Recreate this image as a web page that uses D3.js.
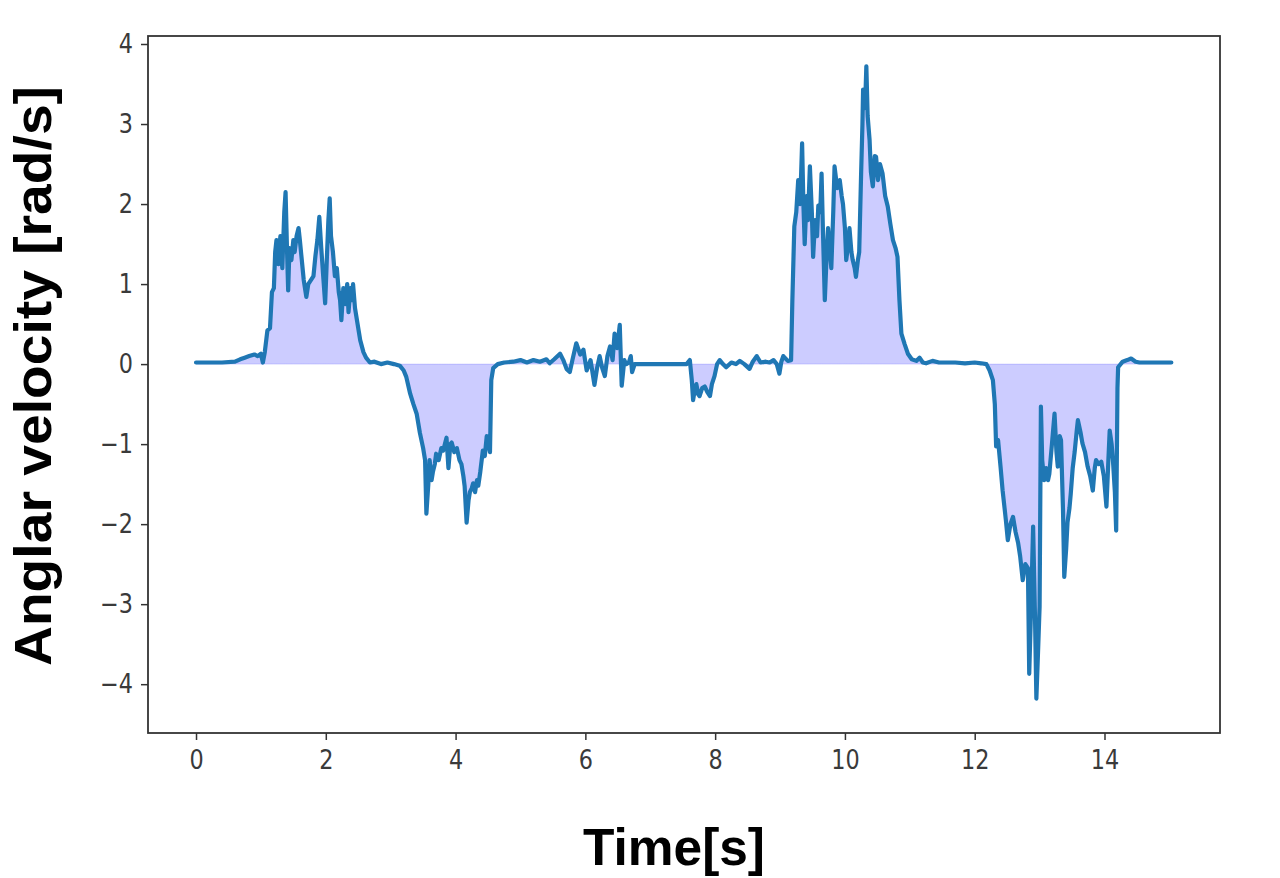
<!DOCTYPE html>
<html>
<head>
<meta charset="utf-8">
<script src="https://cdn.jsdelivr.net/npm/d3@7"></script>
<style>
  html, body { margin: 0; padding: 0; background: #fff; }
  svg { display: block; }
</style>
</head>
<body>
<svg id="chart" width="1280" height="878"></svg>
<script>
// ---- data ----
const timeS = [
  0.00,0.20,0.40,0.60,0.68,0.75,0.82,0.90,0.95,1.00,1.03,1.06,1.10,1.14,1.17,1.20,1.22,1.24,1.27,1.30,
  1.33,1.36,1.38,1.40,1.42,1.44,1.47,1.50,1.52,1.55,1.58,1.60,1.63,1.66,1.70,1.73,1.77,1.81,1.84,1.87,
  1.90,1.93,1.96,1.99,2.02,2.04,2.06,2.08,2.11,2.14,2.17,2.20,2.22,2.24,2.27,2.30,2.33,2.35,2.38,2.40,
  2.42,2.45,2.48,2.51,2.53,2.58,2.62,2.68,2.75,2.85,2.95,3.05,3.14,3.20,3.24,3.30,3.35,3.40,3.45,3.50,
  3.53,3.55,3.58,3.60,3.63,3.65,3.68,3.70,3.74,3.78,3.81,3.86,3.89,3.92,3.94,3.98,4.02,4.06,4.09,4.12,
  4.14,4.17,4.20,4.22,4.25,4.27,4.30,4.33,4.35,4.38,4.42,4.45,4.48,4.51,4.53,4.55,4.58,4.65,4.75,4.89,
  5.00,5.10,5.20,5.30,5.40,5.45,5.52,5.61,5.66,5.71,5.76,5.80,5.86,5.92,5.97,6.02,6.08,6.14,6.18,6.22,
  6.26,6.30,6.34,6.38,6.42,6.45,6.49,6.53,6.56,6.60,6.63,6.67,6.70,6.72,6.76,6.84,7.00,7.20,7.40,7.56,
  7.61,7.64,7.66,7.69,7.71,7.74,7.76,7.80,7.84,7.88,7.92,7.95,7.99,8.03,8.07,8.12,8.17,8.25,8.32,8.38,
  8.45,8.53,8.58,8.64,8.70,8.78,8.84,8.90,8.95,8.99,9.02,9.05,9.12,9.17,9.19,9.22,9.25,9.28,9.31,9.34,
  9.36,9.38,9.41,9.43,9.46,9.49,9.51,9.54,9.57,9.59,9.62,9.64,9.66,9.69,9.72,9.74,9.77,9.79,9.82,9.84,
  9.88,9.92,9.95,9.97,10.00,10.02,10.05,10.07,10.10,10.12,10.15,10.17,10.20,10.22,10.25,10.27,10.28,10.31,10.33,10.35,
  10.38,10.40,10.43,10.46,10.48,10.51,10.54,10.58,10.62,10.66,10.70,10.74,10.78,10.81,10.84,10.87,10.92,10.97,11.03,11.10,
  11.15,11.20,11.25,11.35,11.45,11.56,11.70,11.85,12.00,12.10,12.18,12.23,12.28,12.31,12.33,12.36,12.40,12.43,12.46,12.48,
  12.51,12.55,12.59,12.63,12.67,12.70,12.74,12.78,12.82,12.84,12.87,12.90,12.93,12.95,12.98,13.00,13.02,13.04,13.07,13.10,
  13.13,13.15,13.19,13.23,13.26,13.28,13.31,13.33,13.36,13.38,13.41,13.43,13.46,13.48,13.51,13.54,13.57,13.59,13.63,13.66,
  13.70,13.74,13.78,13.82,13.85,13.87,13.91,13.95,13.99,14.03,14.06,14.08,14.11,14.13,14.16,14.18,14.20,14.21,14.28,14.35,
  14.41,14.48,14.54,14.70,14.85,15.03
];
const angularVelocity = [
  0.02,0.02,0.02,0.03,0.06,0.08,0.10,0.12,0.10,0.13,0.02,0.15,0.42,0.45,0.90,0.95,1.40,1.55,1.25,1.60,
  1.20,1.90,2.15,1.50,0.92,1.45,1.30,1.55,1.40,1.60,1.70,1.55,1.30,1.05,0.84,1.00,1.05,1.10,1.35,1.55,
  1.84,1.45,1.10,0.76,1.40,1.80,2.07,1.60,1.40,1.10,1.20,0.90,0.80,0.55,0.95,0.75,1.00,0.65,0.95,0.80,
  1.00,0.70,0.55,0.40,0.30,0.15,0.08,0.02,0.03,0.00,0.02,0.00,-0.02,-0.08,-0.16,-0.37,-0.50,-0.62,-0.86,-1.05,
  -1.20,-1.87,-1.50,-1.20,-1.45,-1.35,-1.25,-1.12,-1.20,-1.05,-1.08,-0.92,-1.30,-1.00,-0.98,-1.10,-1.05,-1.20,-1.25,-1.40,
  -1.53,-1.98,-1.70,-1.60,-1.55,-1.49,-1.60,-1.45,-1.52,-1.35,-1.08,-1.15,-0.90,-1.00,-1.10,-0.20,-0.05,0.00,0.02,0.03,
  0.05,0.02,0.05,0.03,0.06,0.01,0.06,0.13,0.05,-0.06,-0.10,0.05,0.26,0.12,0.18,-0.08,0.05,-0.26,-0.05,0.10,
  -0.05,-0.15,0.10,0.22,0.05,0.38,0.20,0.49,-0.27,0.05,0.00,0.02,0.10,-0.10,0.00,0.00,0.00,0.00,0.00,0.00,
  0.05,-0.20,-0.45,-0.30,-0.25,-0.38,-0.40,-0.30,-0.28,-0.35,-0.40,-0.25,-0.15,0.00,0.05,0.00,-0.04,0.02,0.00,0.04,
  0.00,-0.06,0.03,0.10,0.02,0.03,0.02,0.05,0.00,-0.12,0.03,0.10,0.04,0.05,0.80,1.72,1.90,2.30,2.00,2.76,
  2.00,1.50,2.10,1.80,2.47,1.90,1.34,1.80,1.60,1.98,1.90,2.38,1.70,0.80,1.40,1.70,1.40,1.20,1.90,2.47,
  2.20,2.30,2.10,2.00,1.70,1.30,1.50,1.70,1.40,1.30,1.20,1.09,1.30,1.40,2.40,3.00,3.43,3.20,3.72,3.10,
  2.80,2.40,2.22,2.60,2.59,2.30,2.50,2.38,2.10,1.97,1.75,1.55,1.45,1.34,0.80,0.38,0.25,0.13,0.06,0.04,
  0.08,0.02,0.01,0.04,0.02,0.02,0.02,0.01,0.02,0.01,0.00,-0.08,-0.20,-0.50,-1.03,-0.95,-1.30,-1.58,-1.80,-1.95,
  -2.20,-2.00,-1.91,-2.10,-2.24,-2.40,-2.70,-2.50,-2.55,-3.87,-3.00,-2.03,-3.20,-4.18,-3.50,-3.03,-0.53,-1.20,-1.45,-1.30,
  -1.45,-1.37,-1.00,-0.62,-1.10,-1.28,-0.90,-0.95,-1.80,-2.66,-2.30,-1.98,-1.80,-1.62,-1.30,-1.10,-0.85,-0.70,-0.85,-0.99,
  -1.10,-1.28,-1.40,-1.58,-1.30,-1.20,-1.25,-1.22,-1.40,-1.78,-1.20,-0.83,-1.00,-1.20,-1.60,-2.08,-0.30,-0.04,0.03,0.05,
  0.07,0.03,0.02,0.02,0.02,0.02
];
const xTicks = [0, 2, 4, 6, 8, 10, 12, 14];
const yTicks = [-4, -3, -2, -1, 0, 1, 2, 3, 4];
const xLabel = "Time[s]";
const yLabel = "Anglar velocity [rad/s]";

// ---- layout ----
const svg = d3.select("#chart");
const plot = { left: 148, right: 1220, top: 36, bottom: 733 };

const data = timeS.map((t, i) => ({ t: t, v: angularVelocity[i] }));

const x = d3.scaleLinear().domain([-0.74, 15.78]).range([plot.left, plot.right]);
const y = d3.scaleLinear().domain([-4.61, 4.1]).range([plot.bottom, plot.top]);

// fill between curve and zero
const area = d3.area().x(d => x(d.t)).y0(y(0)).y1(d => y(d.v));
svg.append("path").datum(data)
  .attr("d", area)
  .attr("fill", "rgb(0,0,255)")
  .attr("fill-opacity", 0.2)
  .attr("stroke", "rgb(0,0,255)")
  .attr("stroke-opacity", 0.15)
  .attr("stroke-width", 1);

// line
const line = d3.line().x(d => x(d.t)).y(d => y(d.v));
svg.append("path").datum(data)
  .attr("d", line)
  .attr("fill", "none")
  .attr("stroke", "#1f77b4")
  .attr("stroke-width", 4.2)
  .attr("stroke-linejoin", "round")
  .attr("stroke-linecap", "round");

// axes
const axisColor = "#333";
const squeeze = 0.86;
const xAxis = d3.axisBottom(x).tickValues(xTicks).tickSize(7).tickPadding(11).tickFormat(d3.format("d"));
const yAxis = d3.axisLeft(y).tickValues(yTicks).tickSize(7).tickPadding(8).tickFormat(d3.format("d"));

const gx = svg.append("g").attr("transform", `translate(0,${plot.bottom})`).call(xAxis);
const gy = svg.append("g").attr("transform", `translate(${plot.left},0)`).call(yAxis);
[gx, gy].forEach(g => {
  g.select(".domain").remove();
  g.selectAll(".tick line").attr("stroke", axisColor).attr("stroke-width", 1.5);
  g.selectAll(".tick text")
    .attr("fill", "#3a3a3a")
    .style("font-family", "'DejaVu Sans', sans-serif")
    .style("font-size", "26px");
});
gx.selectAll(".tick text").attr("transform", `scale(${squeeze},1)`);
gy.selectAll(".tick text").attr("x", 0).attr("transform", `translate(-15,0) scale(${squeeze},1)`);

// frame (spines)
svg.append("rect")
  .attr("x", plot.left).attr("y", plot.top)
  .attr("width", plot.right - plot.left).attr("height", plot.bottom - plot.top)
  .attr("fill", "none").attr("stroke", axisColor).attr("stroke-width", 1.8);

// axis titles
svg.append("text")
  .attr("x", 674).attr("y", 865)
  .attr("text-anchor", "middle")
  .attr("textLength", 182).attr("lengthAdjust", "spacingAndGlyphs")
  .style("font-family", "'Liberation Sans', Arial, sans-serif")
  .style("font-weight", "bold")
  .style("font-size", "52px")
  .attr("fill", "#000")
  .text(xLabel);

svg.append("text")
  .attr("transform", "translate(51,376) rotate(-90)")
  .attr("text-anchor", "middle")
  .attr("textLength", 580).attr("lengthAdjust", "spacingAndGlyphs")
  .style("font-family", "'Liberation Sans', Arial, sans-serif")
  .style("font-weight", "bold")
  .style("font-size", "52px")
  .attr("fill", "#000")
  .text(yLabel);
</script>
</body>
</html>
